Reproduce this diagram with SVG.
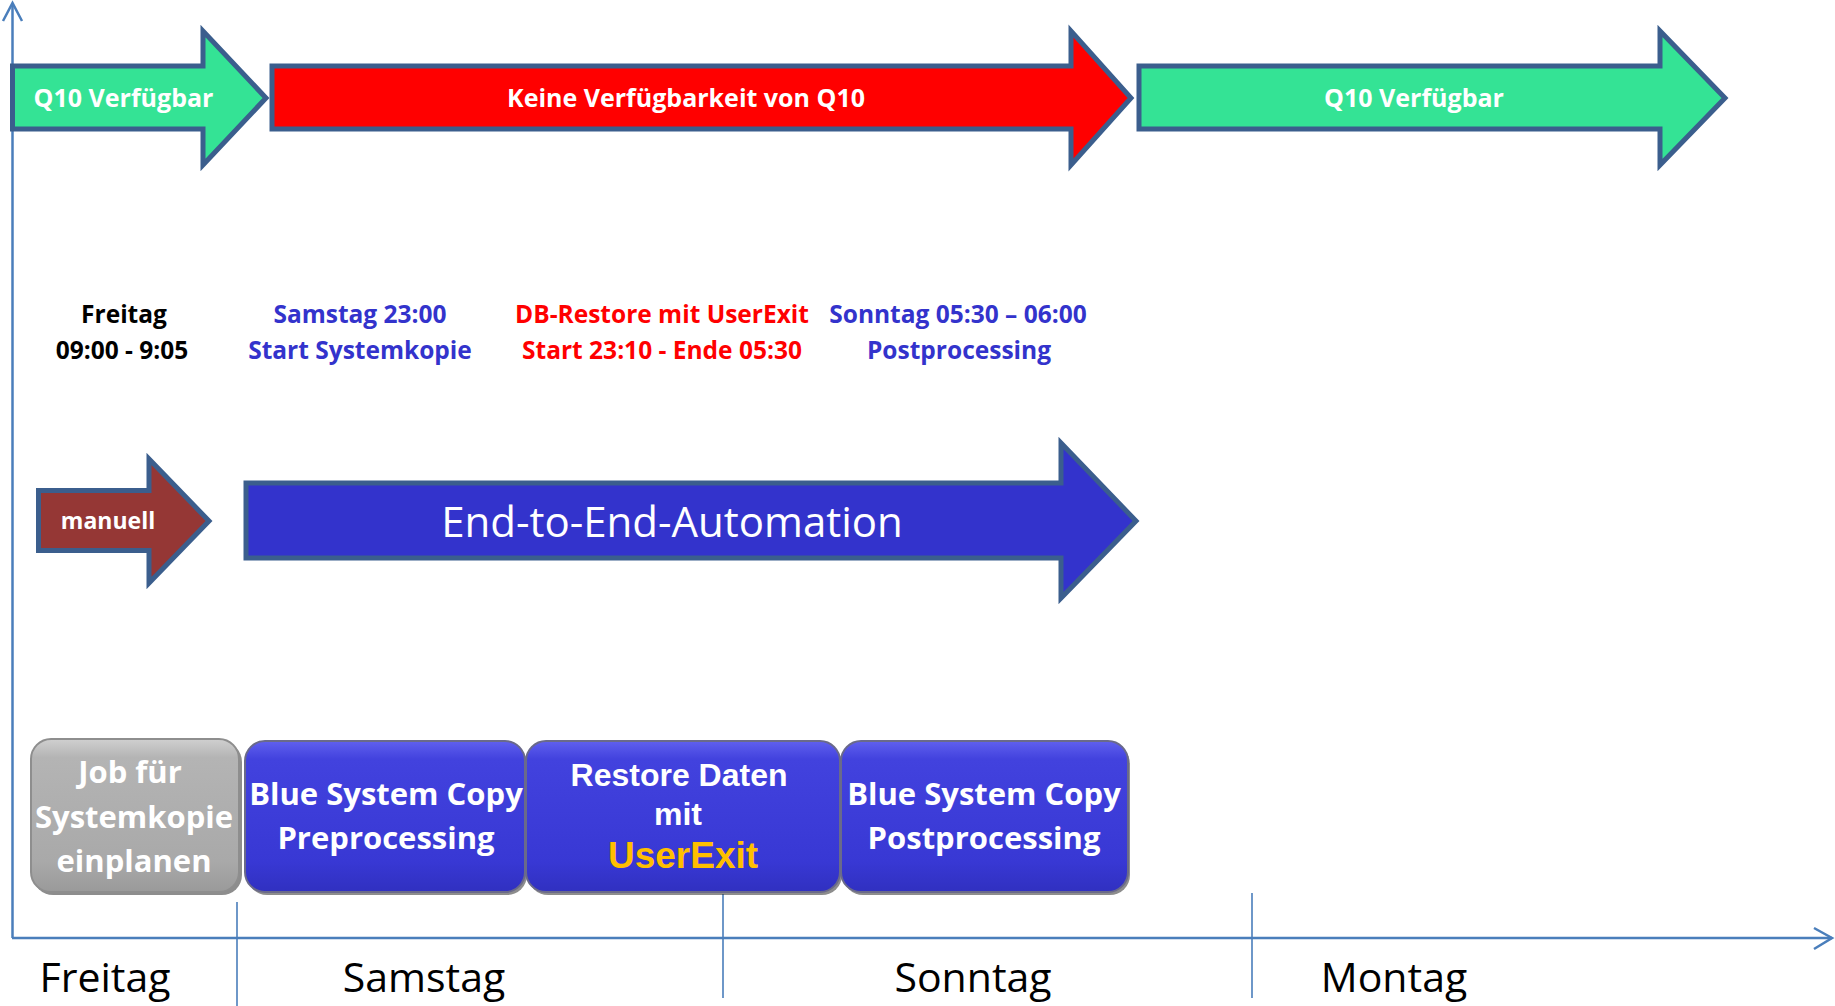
<svg xmlns="http://www.w3.org/2000/svg" width="1835" height="1006" viewBox="0 0 1835 1006">
<defs>
<style>
.arr{stroke:#3B5E8D;stroke-width:5;stroke-linejoin:miter;stroke-miterlimit:10}
.wb{font-family:"Open Sans",Lato,"Liberation Sans",sans-serif;font-weight:bold;fill:#FFFFFF;text-anchor:middle}
.wn{font-family:"Open Sans",Lato,"Liberation Sans",sans-serif;font-weight:normal;fill:#FFFFFF;text-anchor:middle}
.mid{font-family:"Open Sans",Lato,"Liberation Sans",sans-serif;font-weight:bold;font-size:24.5px;text-anchor:middle}
.day{font-family:"Open Sans",Lato,"Liberation Sans",sans-serif;font-size:41px;fill:#000000;text-anchor:middle}
.box{font-family:"Open Sans",Lato,"Liberation Sans",sans-serif;font-weight:bold;font-size:31px;fill:#FFFFFF;text-anchor:middle}
.ari{font-family:"Liberation Sans",Arial,sans-serif;font-weight:bold;text-anchor:middle}
.axis{stroke:#4A7EBB;stroke-width:2.5;fill:none}
.div{stroke:#4A7EBB;stroke-width:1.6;fill:none}
.shadow{fill:#303030;opacity:0.55}
</style>
<linearGradient id="gBlue" x1="0" y1="0" x2="0" y2="1">
<stop offset="0" stop-color="#6060EE"/>
<stop offset="0.12" stop-color="#4242DE"/>
<stop offset="0.8" stop-color="#3838D4"/>
<stop offset="1" stop-color="#3030C0"/>
</linearGradient>
<linearGradient id="gGray" x1="0" y1="0" x2="0" y2="1">
<stop offset="0" stop-color="#D0D0D0"/>
<stop offset="0.12" stop-color="#B4B4B4"/>
<stop offset="0.8" stop-color="#A9A9A9"/>
<stop offset="1" stop-color="#9A9A9A"/>
</linearGradient>
</defs>
<rect width="1835" height="1006" fill="#FFFFFF"/>

<g id="axes">
<line class="axis" x1="12.5" y1="3" x2="12.5" y2="938"/>
<polyline class="axis" points="3,21 12.5,3 22,21"/>
<line class="axis" x1="12" y1="938" x2="1832" y2="938"/>
<polyline class="axis" points="1814,928 1832,938 1814,949"/>
<line class="div" x1="237" y1="902" x2="237" y2="1006"/>
<line class="div" x1="723" y1="894" x2="723" y2="998"/>
<line class="div" x1="1252" y1="893" x2="1252" y2="998"/>
</g>

<g id="q10-verfuegbar-1">
<polygon class="arr" fill="#34E395" points="12.5,66 203,66 203,31 266,98 203,165 203,129 12.5,129"/>
<text class="wb" x="123.5" y="107" font-size="25">Q10 Verfügbar</text>
</g>
<g id="keine-verfuegbarkeit">
<polygon class="arr" fill="#FF0000" points="272,66 1071,66 1071,31 1131,98 1071,165 1071,129 272,129"/>
<text class="wb" x="686" y="107" font-size="25">Keine Verfügbarkeit von Q10</text>
</g>
<g id="q10-verfuegbar-2">
<polygon class="arr" fill="#34E395" points="1139,66 1660,66 1660,31 1725,98 1660,165 1660,129 1139,129"/>
<text class="wb" x="1414" y="107" font-size="25">Q10 Verfügbar</text>
</g>

<g id="label-freitag">
<text class="mid" fill="#000000" x="124" y="323">Freitag</text>
<text class="mid" fill="#000000" x="122" y="359">09:00 - 9:05</text>
</g>
<g id="label-samstag">
<text class="mid" fill="#3333CC" x="360" y="323">Samstag 23:00</text>
<text class="mid" fill="#3333CC" x="360" y="359">Start Systemkopie</text>
</g>
<g id="label-restore">
<text class="mid" fill="#FF0000" x="662" y="323">DB-Restore mit UserExit</text>
<text class="mid" fill="#FF0000" x="662" y="359">Start 23:10 - Ende 05:30</text>
</g>
<g id="label-sonntag">
<text class="mid" fill="#3333CC" x="958" y="323">Sonntag 05:30 – 06:00</text>
<text class="mid" fill="#3333CC" x="959" y="359">Postprocessing</text>
</g>

<g id="manuell">
<polygon class="arr" fill="#953735" points="38.5,490.5 149,490.5 149,459 209,521 149,583 149,550.5 38.5,550.5"/>
<text class="wb" x="108" y="529" font-size="23">manuell</text>
</g>
<g id="end-to-end">
<polygon class="arr" fill="#3333CC" points="246,483 1061,483 1061,443 1136,521 1061,598 1061,558 246,558"/>
<text class="wn" x="672" y="537" font-size="42">End-to-End-Automation</text>
</g>

<g id="job-einplanen">
<rect class="shadow" x="33" y="742" width="209" height="153" rx="20"/>
<rect x="31" y="739" width="208" height="153" rx="20" fill="url(#gGray)" stroke="#8E8E8E" stroke-width="2"/>
<text class="box" x="130" y="783">Job für</text>
<text class="box" x="134" y="828">Systemkopie</text>
<text class="box" x="134" y="872">einplanen</text>
</g>
<g id="preprocessing">
<rect class="shadow" x="247" y="744" width="280" height="151" rx="20"/>
<rect x="245" y="741" width="280" height="151" rx="20" fill="url(#gBlue)" stroke="#6A6A8A" stroke-width="2"/>
<text class="box" x="386" y="805">Blue System Copy</text>
<text class="box" x="386" y="849">Preprocessing</text>
</g>
<g id="restore-daten">
<rect class="shadow" x="528" y="744" width="314" height="151" rx="20"/>
<rect x="526" y="741" width="314" height="151" rx="20" fill="url(#gBlue)" stroke="#6A6A8A" stroke-width="2"/>
<text class="ari" x="679" y="786" font-size="32" fill="#FFFFFF">Restore Daten</text>
<text class="ari" x="678" y="825" font-size="32" fill="#FFFFFF">mit</text>
<text class="ari" x="683" y="868" font-size="37" fill="#FFBF00">UserExit</text>
</g>
<g id="postprocessing">
<rect class="shadow" x="843" y="744" width="287" height="151" rx="20"/>
<rect x="841" y="741" width="287" height="151" rx="20" fill="url(#gBlue)" stroke="#6A6A8A" stroke-width="2"/>
<text class="box" x="984" y="805">Blue System Copy</text>
<text class="box" x="984" y="849">Postprocessing</text>
</g>

<g id="days">
<text class="day" x="105" y="992">Freitag</text>
<text class="day" x="424" y="992">Samstag</text>
<text class="day" x="973" y="992">Sonntag</text>
<text class="day" x="1394" y="992">Montag</text>
</g>
</svg>
